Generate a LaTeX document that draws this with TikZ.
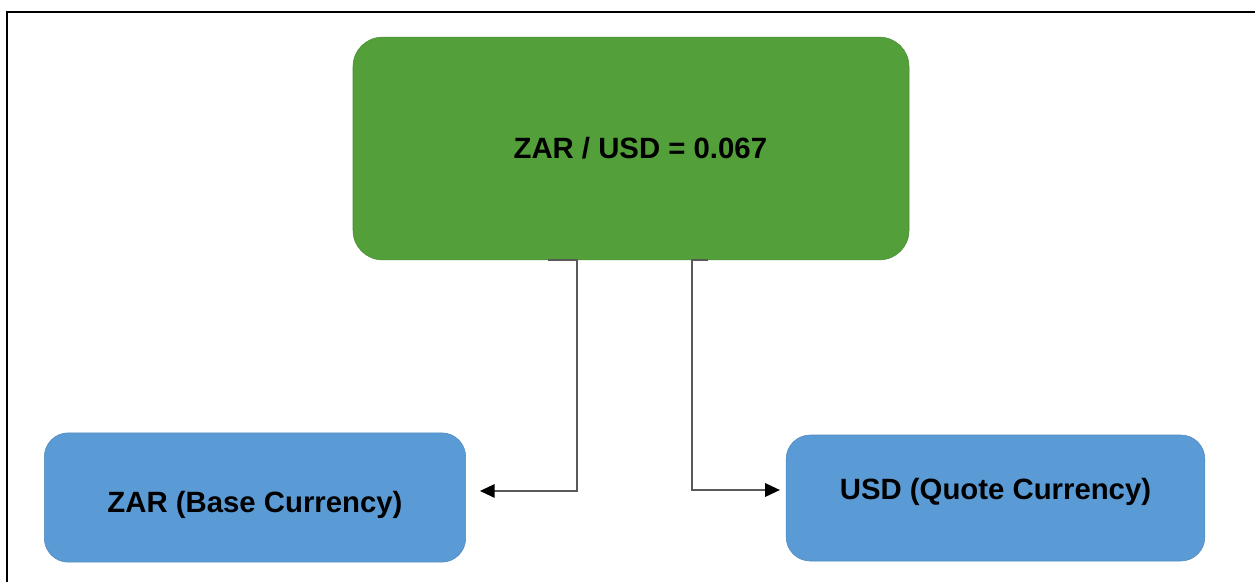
\documentclass[tikz,border=0pt]{standalone}
\usepackage{fontspec}
\setmainfont{Liberation Sans}
\usetikzlibrary{arrows.meta}

\definecolor{rategreen}{HTML}{539F3A}
\definecolor{ratedge}{HTML}{4A8C34}
\definecolor{pairblue}{HTML}{5B9BD5}
\definecolor{pairedge}{HTML}{4F88BC}

\begin{document}
\begin{tikzpicture}[x=0.75pt,y=-0.75pt,auto,
    rate/.style ={draw=ratedge, fill=rategreen, rounded corners=22pt,
                  minimum width=417pt, minimum height=167pt,
                  text height=24pt, text depth=9.4pt,
                  font=\fontsize{22pt}{26pt}\selectfont\bfseries},
    currency/.style ={draw=pairedge, fill=pairblue, rounded corners=18pt,
                  text height=24pt,
                  font=\fontsize{22pt}{26pt}\selectfont\bfseries},
    link/.style ={draw=black!65, line width=1.4pt,
                  -{Triangle[length=11pt,width=10pt,color=black]}}]
   \useasboundingbox (0,0) rectangle (1255,582);
   \draw[line width=1.5pt] (6.5,582) -- (6.5,11.5) -- (1255,11.5);
   \node[rate] (R) at (631,148.5)  {\hspace*{14pt}ZAR / USD = 0.067};
   \node[currency, minimum width=316pt, minimum height=97pt, text depth=1.1pt]
         (B) at (255,497.5) {ZAR (Base Currency)};
   \node[currency, minimum width=314pt, minimum height=94.5pt, text depth=21.2pt]
         (Q) at (995.5,498) {USD (Quote Currency)};
   \draw[link] ([xshift=-62pt]R.south) -- ([xshift=-40.5pt]R.south)
               |- ([xshift=10.5pt,yshift=4.9pt]B.east);
   \draw[link] ([xshift=57.75pt]R.south) -- ([xshift=45.75pt]R.south)
               |- ([xshift=-4.5pt,yshift=6pt]Q.west);
 \end{tikzpicture}
\end{document}
